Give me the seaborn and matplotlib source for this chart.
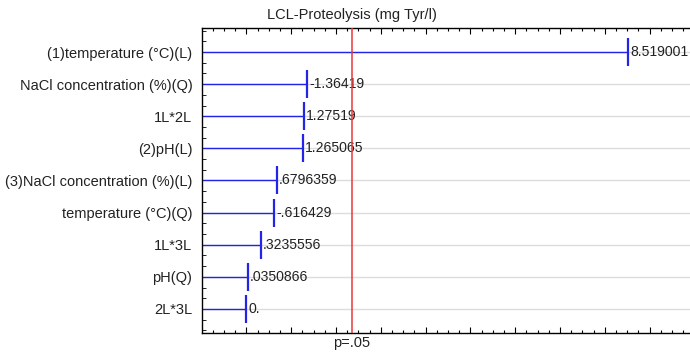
import matplotlib
matplotlib.use("Agg")
import matplotlib.pyplot as plt
from matplotlib.ticker import MultipleLocator
import pandas as pd
import seaborn as sns

factors = ["(1)temperature (°C)(L)", "NaCl concentration (%)(Q)", "1L*2L", "(2)pH(L)",
           "(3)NaCl concentration (%)(L)", "temperature (°C)(Q)", "1L*3L", "pH(Q)", "2L*3L"]
effects = [8.519001, -1.36419, 1.27519, 1.265065, 0.6796359, -0.616429, 0.3235556, 0.0350866, 0.0]
effect_labels = ["8.519001", "-1.36419", "1.27519", "1.265065", ".6796359",
                 "-.616429", ".3235556", ".0350866", "0."]
p_crit = 2.3646  # t(0.975, 7 df)

df = pd.DataFrame({"factor": factors, "effect": [abs(e) for e in effects]})

sns.set_theme(style="white")
plt.rcParams["font.family"] = ["Liberation Sans", "DejaVu Sans"]

blue = "#2424e6"
fs = 10.5
fig = plt.figure(figsize=(6.9, 3.52), dpi=100)
ax = fig.add_axes([202 / 690, 1 - 333 / 352, 1 - 202 / 690, (333 - 28) / 352])

xmin, xmax = -0.99, 9.9
for i in range(len(factors)):
    ax.axhline(i, color="#dcdcdc", lw=1, zorder=0)
ax.hlines(range(len(factors)), xmin, df["effect"], color=blue, lw=1, zorder=2)
sns.scatterplot(data=df, x="effect", y="factor", marker="|", s=380, color=blue,
                linewidth=1.6, ax=ax, zorder=3)

for i, (v, lab) in enumerate(zip(df["effect"], effect_labels)):
    ax.text(v + 0.05, i, lab, va="center", ha="left", fontsize=10.1, color="#222222")

ax.axvline(p_crit, color="#e8393b", lw=1.1, zorder=4)

ax.set_xlim(xmin, xmax)
ax.set_ylim(len(factors) - 0.25, -0.75)
ax.set_xlabel("")
ax.set_ylabel("")

ax.xaxis.set_major_locator(MultipleLocator(1))
ax.xaxis.set_minor_locator(MultipleLocator(0.25))
ax.yaxis.set_minor_locator(MultipleLocator(1 / 3))
ax.tick_params(axis="x", which="both", direction="in", top=True, bottom=True,
               labelbottom=False, color="black", width=0.8)
ax.tick_params(axis="x", which="major", length=4)
ax.tick_params(axis="x", which="minor", length=2)
ax.tick_params(axis="y", which="major", length=0, labelsize=fs, pad=7, labelcolor="#222222")
ax.yaxis.set_tick_params(which="minor", direction="in", left=True, length=3, width=0.6,
                         color="black")

for side in ["left", "top", "bottom"]:
    ax.spines[side].set_color("black")
    ax.spines[side].set_linewidth(1)
ax.spines["right"].set_visible(False)

fig.text(352 / 690, 1 - 15 / 352, "LCL-Proteolysis (mg Tyr/l)", ha="center", va="center",
         fontsize=fs, color="#222222")
fig.text(352 / 690, 1 - 343 / 352, "p=.05", ha="center", va="center",
         fontsize=fs, color="#222222")

fig.savefig("out.png", dpi=100)
